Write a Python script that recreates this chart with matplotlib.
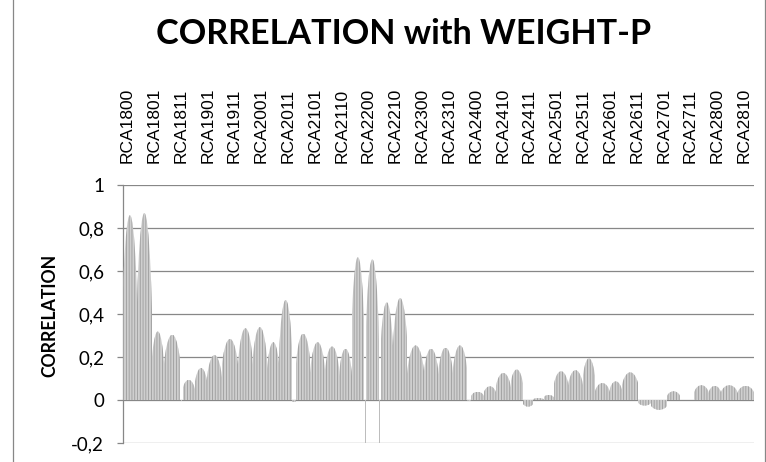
import matplotlib
matplotlib.use("Agg")
import matplotlib.pyplot as plt
from matplotlib.patches import Ellipse
import matplotlib.transforms as mtrans

# ---------------- data ----------------
tick_labels = ["RCA1800", "RCA1801", "RCA1811", "RCA1901", "RCA1911", "RCA2001",
               "RCA2011", "RCA2101", "RCA2110", "RCA2200", "RCA2210", "RCA2300",
               "RCA2310", "RCA2400", "RCA2410", "RCA2411", "RCA2501", "RCA2511",
               "RCA2601", "RCA2611", "RCA2701", "RCA2711", "RCA2800", "RCA2810"]
label_every = 13  # a label is shown every 13 columns

# groups of consecutive columns (number of columns) and the peak correlation of each group
group_sizes = [7, 7, 6, 8, 1, 6, 6, 7, 8, 7, 7, 6, 6, 2, 7, 7, 7, 6, 6, 1, 6, 1, 6, 7, 8,
               7, 7, 7, 2, 6, 6, 7, 6, 5, 5, 5, 7, 7, 6, 7, 6, 8, 6, 8, 6, 7, 7, 6, 8, 8]
group_peaks = [0.86, 0.87, 0.32, 0.305, -0.005, 0.095, 0.15, 0.21, 0.285, 0.335,
               0.34, 0.27, 0.466, -0.008, 0.31, 0.27, 0.25, 0.24, 0.665, -0.25,
               0.655, -0.25, 0.455, 0.475, 0.255, 0.24, 0.245, 0.255, -0.003, 0.04,
               0.065, 0.127, 0.143, -0.03, 0.01, 0.025, 0.135, 0.14, 0.195, 0.08,
               0.088, 0.13, -0.025, -0.045, 0.042, 0.003, 0.07, 0.067, 0.07, 0.067]
y_ticks = [-0.2, 0, 0.2, 0.4, 0.6, 0.8, 1.0]

title = "CORRELATION with WEIGHT-P"
y_label = "CORRELATION"

# ---------------- style ----------------
GRID = "#878787"
FACE = "#cfcfcf"
STRIPE = "#9c9c9c"
W, H = 766, 462
plt.rcParams["hatch.linewidth"] = 0.6

fig = plt.figure(figsize=(W / 100, H / 100), dpi=100)
ax = fig.add_axes([122.7 / W, (H - 443.3) / H, (754 - 122.7) / W, (443.3 - 185) / H])

n_cols = sum(group_sizes)
start = 0
for size, peak in zip(group_sizes, group_peaks):
    center = start + (size - 1) / 2
    if size == 1:
        ax.bar(center, peak, width=0.5, color="#bdbdbd", linewidth=0, zorder=3)
    else:
        bars = ax.bar(center, peak, width=size, color=FACE, edgecolor=STRIPE,
                      linewidth=0, hatch="|" * 6, zorder=3)
        ell = Ellipse((center, 0), width=size * 1.2, height=2 * abs(peak),
                      transform=ax.transData)
        for b in bars:
            b.set_clip_path(ell)
    start += size

ax.set_xlim(-0.5, n_cols - 0.5)
ax.set_ylim(-0.2, 1.0)

# grid
ax.set_yticks(y_ticks)
ax.set_yticklabels([("%g" % v).replace(".", ",") for v in y_ticks],
                   fontsize=13.5, family="Lato")
ax.yaxis.grid(True, color=GRID, linewidth=0.9, zorder=1)
ax.set_axisbelow(True)
ax.tick_params(axis="y", length=4.3, width=0.9, color=GRID, pad=9, labelcolor="black")

for s in ("top", "right", "bottom"):
    ax.spines[s].set_visible(False)
ax.spines["left"].set_color(GRID)
ax.spines["left"].set_linewidth(0.9)

# category labels on top
ax.xaxis.set_ticks_position("top")
ax.set_xticks([i * label_every for i in range(len(tick_labels))])
ax.set_xticklabels(tick_labels, rotation=90, fontsize=12.5, family="Liberation Sans")
ax.tick_params(axis="x", length=0, pad=15.8)
off = mtrans.ScaledTranslation(3.5 / 100, 0, fig.dpi_scale_trans)
for lab in ax.get_xticklabels():
    lab.set_transform(lab.get_transform() + off)

# title and axis title
t = fig.text(404 / W, 1 - 44 / H, title, ha="center", va="baseline",
             fontsize=26, fontweight="bold", family="Lato")
yl = fig.text(50 / W, 1 - 315 / H, y_label, rotation=90, ha="center", va="center",
              fontsize=14, fontweight="bold", family="Lato")

r = fig.canvas.get_renderer()
wt = t.get_window_extent(r).width
t.set_fontsize(t.get_fontsize() * 494 / wt)
hy = yl.get_window_extent(r).height
yl.set_fontsize(yl.get_fontsize() * 124 / hy)

# chart-area border (left and right edges visible)
fig.add_artist(plt.Line2D([12.5 / W, 12.5 / W], [0, 1], color=GRID, linewidth=0.9,
                          transform=fig.transFigure))
fig.add_artist(plt.Line2D([765 / W, 765 / W], [0, 1], color=GRID, linewidth=0.9,
                          transform=fig.transFigure))

fig.savefig("out.png", dpi=100)
